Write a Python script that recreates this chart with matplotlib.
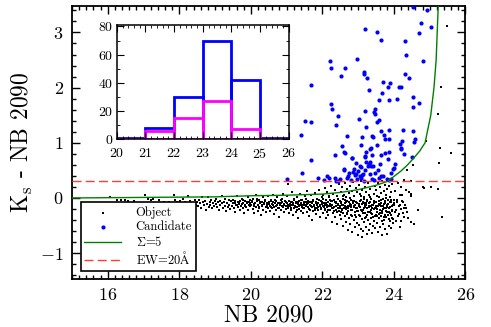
import matplotlib
matplotlib.use('Agg')
import matplotlib.pyplot as plt
from matplotlib.ticker import MultipleLocator

plt.rcParams['font.family'] = 'serif'
plt.rcParams['font.serif'] = ['cmr10', 'DejaVu Serif']
plt.rcParams['mathtext.fontset'] = 'cm'
plt.rcParams['axes.formatter.use_mathtext'] = True

# all detected objects (NB 2090, Ks - NB 2090)
obj_bright = [
    (16.06, 0.02), (16.27, -0.03), (16.38, -0.04), (16.47, -0.03), (16.56, -0.05), (16.73, -0.05),
    (17.05, 0.05), (17.12, -0.01), (17.20, -0.03), (17.27, -0.02), (17.43, -0.04), (17.52, -0.10),
    (17.57, -0.07), (17.64, -0.12), (17.71, -0.08), (17.86, 0.05), (17.87, -0.03), (17.93, -0.07),
    (17.98, -0.11),
    (18.02, -0.06), (18.05, -0.12), (18.09, -0.02), (18.12, -0.15), (18.16, -0.08), (18.19, -0.18),
    (18.23, 0.03), (18.26, -0.10), (18.30, -0.05), (18.33, -0.14), (18.37, -0.09), (18.41, -0.20),
    (18.44, -0.03), (18.47, -0.12), (18.49, -0.07),
    (18.52, -0.15), (18.55, -0.04), (18.58, -0.10), (18.61, -0.19), (18.63, 0.02), (18.66, -0.08),
    (18.69, -0.13), (18.72, -0.05), (18.74, -0.21), (18.77, -0.11), (18.80, 0.01), (18.82, -0.16),
    (18.85, -0.07), (18.87, -0.12), (18.90, -0.03), (18.92, -0.18), (18.95, -0.09), (18.97, -0.14),
    (18.99, -0.06),
    (19.02, -0.11), (19.04, -0.02), (19.06, -0.17), (19.09, -0.08), (19.11, -0.22), (19.13, -0.05),
    (19.15, -0.13), (19.18, 0.03), (19.20, -0.10), (19.22, -0.19), (19.25, -0.07), (19.27, -0.14),
    (19.29, -0.01), (19.31, -0.24), (19.34, -0.09), (19.36, -0.16), (19.38, -0.04), (19.40, -0.12),
    (19.43, -0.20), (19.45, -0.06), (19.47, -0.15), (19.49, -0.10),
    (19.51, -0.03), (19.53, -0.18), (19.55, -0.09), (19.57, -0.25), (19.59, -0.12), (19.61, 0.04),
    (19.63, -0.07), (19.65, -0.16), (19.67, -0.11), (19.69, -0.21), (19.71, -0.05), (19.73, -0.14),
    (19.75, -0.02), (19.77, -0.19), (19.79, -0.09), (19.81, -0.27), (19.83, -0.12), (19.85, -0.06),
    (19.87, -0.17), (19.89, -0.10), (19.91, 0.02), (19.93, -0.22), (19.95, -0.08), (19.97, -0.15),
    (19.99, -0.04),
]

obj_mid = [
    (20.01, -0.13), (20.03, -0.07), (20.05, -0.20), (20.06, -0.02), (20.08, -0.11), (20.10, -0.28),
    (20.12, -0.09), (20.14, -0.16), (20.15, 0.05), (20.17, -0.06), (20.19, -0.23), (20.21, -0.12),
    (20.23, -0.04), (20.24, -0.18), (20.26, -0.10), (20.28, -0.31), (20.30, -0.08), (20.32, -0.15),
    (20.33, 0.01), (20.35, -0.21), (20.37, -0.11), (20.39, -0.05), (20.41, -0.17), (20.42, -0.26),
    (20.44, -0.09), (20.46, -0.13), (20.48, 0.03), (20.49, -0.19),
    (20.51, -0.07), (20.53, -0.14), (20.54, -0.24), (20.56, -0.03), (20.58, -0.11), (20.59, -0.19),
    (20.61, -0.08), (20.63, 0.06), (20.64, -0.16), (20.66, -0.29), (20.68, -0.10), (20.69, -0.05),
    (20.71, -0.21), (20.73, -0.13), (20.74, 0.02), (20.76, -0.18), (20.78, -0.09), (20.79, -0.34),
    (20.81, -0.12), (20.83, -0.04), (20.84, -0.22), (20.86, -0.15), (20.88, -0.07), (20.89, 0.08),
    (20.91, -0.17), (20.93, -0.11), (20.94, -0.26), (20.96, -0.06), (20.98, -0.14), (20.99, -0.20),
    (21.01, -0.09), (21.02, 0.04), (21.04, -0.18), (21.05, -0.12), (21.07, -0.27), (21.08, -0.05),
    (21.10, -0.15), (21.11, -0.22), (21.13, -0.08), (21.14, 0.10), (21.16, -0.13), (21.17, -0.31),
    (21.19, -0.10), (21.20, -0.02), (21.22, -0.19), (21.23, -0.14), (21.25, -0.07), (21.26, -0.25),
    (21.28, 0.01), (21.29, -0.16), (21.31, -0.11), (21.32, -0.36), (21.34, -0.06), (21.35, -0.20),
    (21.37, -0.13), (21.38, 0.07), (21.40, -0.09), (21.41, -0.23), (21.43, -0.17), (21.44, -0.04),
    (21.46, -0.28), (21.47, -0.12), (21.49, -0.08), (21.04, 0.25),
    (21.50, -0.19), (21.51, 0.03), (21.53, -0.14), (21.54, -0.07), (21.56, -0.26), (21.57, -0.11),
    (21.58, 0.12), (21.60, -0.17), (21.61, -0.05), (21.63, -0.32), (21.64, -0.13), (21.65, -0.21),
    (21.67, -0.08), (21.68, 0.05), (21.70, -0.16), (21.71, -0.40), (21.72, -0.10), (21.74, -0.24),
    (21.75, -0.03), (21.77, -0.14), (21.78, -0.19), (21.79, 0.09), (21.81, -0.07), (21.82, -0.29),
    (21.84, -0.12), (21.85, -0.18), (21.86, -0.01), (21.88, -0.22), (21.89, -0.10), (21.91, 0.15),
    (21.92, -0.15), (21.93, -0.35), (21.95, -0.06), (21.96, -0.20), (21.98, -0.11), (21.99, 0.02),
]

obj_faint = [
    (22.01, -0.14), (22.02, -0.28), (22.03, 0.06), (22.04, -0.09), (22.06, -0.20), (22.07, 0.18),
    (22.08, -0.12), (22.09, -0.37), (22.11, -0.04), (22.12, -0.17), (22.13, -0.25), (22.14, 0.10),
    (22.16, -0.08), (22.17, -0.31), (22.18, -0.15), (22.19, 0.01), (22.21, -0.22), (22.22, -0.11),
    (22.23, 0.22), (22.24, -0.06), (22.26, -0.43), (22.27, -0.18), (22.28, -0.13), (22.29, 0.08),
    (22.31, -0.27), (22.32, -0.03), (22.33, -0.16), (22.34, -0.34), (22.36, 0.14), (22.37, -0.10),
    (22.38, -0.21), (22.39, -0.07), (22.41, 0.03), (22.42, -0.48), (22.43, -0.19), (22.44, -0.12),
    (22.46, 0.25), (22.47, -0.24), (22.48, -0.05), (22.49, -0.30),
    (22.50, -0.15), (22.51, 0.11), (22.52, -0.39), (22.53, -0.08), (22.54, -0.22), (22.55, 0.20),
    (22.56, -0.13), (22.57, -0.51), (22.58, -0.02), (22.59, -0.27), (22.60, 0.06), (22.61, -0.18),
    (22.62, -0.33), (22.63, 0.27), (22.64, -0.10), (22.65, -0.44), (22.66, -0.20), (22.67, 0.02),
    (22.68, -0.06), (22.69, -0.29), (22.70, 0.16), (22.71, -0.14), (22.72, -0.58), (22.73, -0.24),
    (22.74, 0.09), (22.75, -0.36), (22.76, -0.11), (22.77, -0.47), (22.78, 0.22), (22.79, -0.17),
    (22.80, -0.04), (22.81, -0.31), (22.82, 0.13), (22.83, -0.62), (22.84, -0.21), (22.85, -0.09),
    (22.86, 0.29), (22.87, -0.40), (22.88, -0.15), (22.89, 0.04), (22.90, -0.26), (22.91, -0.53),
    (22.92, -0.12), (22.93, 0.18), (22.94, -0.35), (22.95, -0.07), (22.96, -0.45), (22.97, 0.10),
    (22.98, -0.19), (22.99, -0.68),
    (23.00, -0.23), (23.01, 0.24), (23.02, -0.11), (23.03, -0.49), (23.04, 0.07), (23.05, -0.32),
    (23.06, -0.16), (23.07, -0.56), (23.08, 0.31), (23.09, -0.04), (23.10, -0.38), (23.11, -0.71),
    (23.12, 0.15), (23.13, -0.21), (23.14, -0.60), (23.15, -0.09), (23.16, 0.02), (23.17, -0.43),
    (23.18, -0.27), (23.19, 0.20), (23.20, -0.13), (23.21, -0.52), (23.22, -0.34), (23.23, 0.11),
    (23.24, -0.06), (23.25, -0.66), (23.26, -0.19), (23.27, 0.28), (23.28, -0.40), (23.29, -0.10),
    (23.30, -0.58), (23.31, 0.05), (23.32, -0.25), (23.33, -0.47), (23.34, 0.17), (23.35, -0.15),
    (23.36, -0.36), (23.37, -0.02), (23.38, -0.63), (23.39, 0.33), (23.40, -0.29), (23.41, -0.12),
    (23.42, -0.50), (23.43, 0.08), (23.44, -0.20), (23.45, -0.41), (23.46, 0.22), (23.47, -0.07),
    (23.48, -0.55), (23.49, -0.31),
    (23.50, 0.14), (23.51, -0.17), (23.52, -0.45), (23.53, 0.04), (23.54, -0.26), (23.55, -0.61),
    (23.56, 0.27), (23.57, -0.11), (23.58, -0.37), (23.59, -0.05), (23.60, 0.19), (23.61, -0.52),
    (23.62, -0.22), (23.63, 0.09), (23.64, -0.33), (23.65, -0.14), (23.66, -0.68), (23.67, 0.30),
    (23.68, -0.28), (23.69, -0.02), (23.70, -0.48), (23.71, 0.12), (23.72, -0.19), (23.73, -0.40),
    (23.74, 0.24), (23.75, -0.09), (23.76, -0.57), (23.77, -0.24), (23.78, 0.06), (23.79, -0.35),
    (23.80, -0.13), (23.81, -0.66), (23.82, 0.17), (23.83, -0.30), (23.84, -0.04), (23.85, -0.50),
    (23.86, 0.21), (23.87, -0.18), (23.88, -0.42), (23.89, 0.01), (23.90, -0.27), (23.91, -0.08),
    (23.92, -0.55), (23.93, 0.10), (23.94, -0.21), (23.95, -0.36), (23.96, 0.26), (23.97, -0.12),
    (23.98, -0.46), (23.99, -0.03),
    (24.02, -0.25), (24.04, 0.12), (24.06, -0.41), (24.08, -0.08), (24.10, 0.28), (24.12, -0.33),
    (24.14, -0.15), (24.16, 0.05), (24.18, -0.52), (24.19, -0.42), (24.21, 0.20), (24.22, -0.05),
    (24.23, 0.05), (24.25, -0.28), (24.27, 0.33), (24.29, -0.18), (24.31, -0.12), (24.33, 0.15),
    (24.35, -0.18), (24.37, -0.25), (24.37, 0.50), (24.40, -0.36), (24.43, 0.10), (24.47, 0.30),
    (24.47, 0.04), (24.48, -0.43), (24.49, 0.07),
    (24.53, 0.60), (24.56, -0.48), (24.67, -0.21), (24.82, 0.20), (24.83, 0.18), (24.89, 1.04),
    (25.03, 0.19), (25.22, 0.16), (25.23, 0.17), (25.25, 0.64), (25.22, 1.52), (25.29, 0.91),
    (25.31, 2.02), (25.33, -0.34), (25.49, 3.11), (25.60, 0.82),
]

# densest part of the locus
obj_core = [
    (19.56, -0.06), (19.62, -0.13), (19.68, -0.09), (19.74, -0.11), (19.78, -0.04), (19.84, -0.15),
    (19.88, -0.08), (19.94, -0.12), (19.98, -0.10),
    (20.04, -0.05), (20.09, -0.14), (20.13, -0.10), (20.18, -0.02), (20.22, -0.16), (20.27, -0.07),
    (20.31, -0.12), (20.36, -0.09), (20.40, -0.03), (20.45, -0.15), (20.50, -0.11), (20.55, -0.06),
    (20.57, -0.17), (20.62, -0.12), (20.67, -0.04), (20.70, -0.14), (20.75, -0.09), (20.80, -0.18),
    (20.85, -0.10), (20.87, -0.02), (20.92, -0.13), (20.97, -0.08),
    (21.03, -0.15), (21.06, -0.05), (21.09, -0.11), (21.12, -0.19), (21.15, -0.07), (21.18, -0.13),
    (21.21, -0.03), (21.24, -0.16), (21.27, -0.10), (21.30, -0.21), (21.33, -0.08), (21.36, -0.14),
    (21.39, -0.04), (21.42, -0.12), (21.45, -0.18), (21.48, -0.09),
    (21.52, -0.13), (21.55, -0.02), (21.59, -0.10), (21.62, -0.20), (21.66, -0.07), (21.69, -0.15),
    (21.73, -0.05), (21.76, -0.12), (21.80, -0.22), (21.83, -0.09), (21.87, -0.16), (21.90, -0.04),
    (21.94, -0.13), (21.97, -0.18),
    (22.00, -0.07), (22.05, -0.16), (22.10, -0.10), (22.15, -0.22), (22.20, -0.04), (22.25, -0.13),
    (22.30, -0.18), (22.35, -0.08), (22.40, -0.26), (22.45, -0.11), (22.02, -0.02), (22.08, -0.21),
    (22.12, -0.12), (22.18, 0.03), (22.23, -0.15), (22.27, -0.06), (22.33, -0.24), (22.38, -0.14),
    (22.43, -0.01), (22.48, -0.18),
    (22.52, -0.09), (22.56, -0.20), (22.59, -0.12), (22.63, -0.03), (22.67, -0.17), (22.70, -0.27),
    (22.74, -0.08), (22.78, -0.14), (22.81, -0.22), (22.85, -0.05), (22.89, -0.16), (22.92, -0.30),
    (22.96, -0.10), (22.53, -0.25), (22.58, 0.04), (22.62, -0.15), (22.66, -0.07), (22.71, -0.19),
    (22.76, 0.00), (22.80, -0.12), (22.84, -0.33), (22.88, -0.06), (22.93, -0.18), (22.97, -0.23),
    (23.02, -0.14), (23.05, -0.05), (23.08, -0.21), (23.11, -0.11), (23.14, -0.28), (23.17, -0.02),
    (23.20, -0.17), (23.23, -0.09), (23.26, -0.31), (23.29, -0.14), (23.32, 0.01), (23.35, -0.22),
    (23.38, -0.12), (23.41, -0.35), (23.44, -0.06), (23.47, -0.18),
    (23.01, -0.30), (23.04, -0.17), (23.07, 0.04), (23.10, -0.24), (23.13, -0.08), (23.16, -0.19),
    (23.19, -0.36), (23.22, -0.13), (23.25, -0.04), (23.28, -0.25), (23.31, -0.16), (23.34, -0.07),
    (23.37, -0.27), (23.40, -0.19), (23.43, -0.10), (23.46, -0.32), (23.49, -0.14),
    (23.51, -0.08), (23.54, -0.20), (23.57, -0.29), (23.60, -0.12), (23.63, -0.03), (23.66, -0.23),
    (23.69, -0.15), (23.72, -0.34), (23.75, -0.06), (23.78, -0.18), (23.81, -0.26), (23.84, -0.11),
    (23.87, -0.38), (23.90, -0.16), (23.93, -0.04), (23.96, -0.24), (23.99, -0.13),
    (23.52, -0.33), (23.55, -0.14), (23.58, 0.02), (23.61, -0.27), (23.64, -0.09), (23.67, -0.42),
    (23.70, -0.20), (23.73, -0.11), (23.76, -0.30), (23.79, 0.00), (23.82, -0.17), (23.85, -0.25),
    (23.88, -0.07), (23.91, -0.31), (23.94, -0.15), (23.97, -0.39),
    (24.01, -0.10), (24.05, -0.22), (24.09, -0.03), (24.13, -0.29), (24.17, -0.12), (24.20, -0.20),
    (24.24, -0.08), (24.28, -0.35),
]

# NB excess candidates
cand = [
    (24.54, 3.47), (24.92, 3.40), (24.77, 3.18), (24.71, 2.99), (25.05, 3.10),
    (23.18, 3.06), (23.53, 3.01), (23.64, 2.87), (24.30, 2.85), (24.34, 2.60),
    (22.21, 2.48), (22.23, 2.36), (22.62, 2.35), (22.98, 2.51), (23.15, 2.28), (23.17, 2.25),
    (23.24, 2.18), (22.53, 2.21), (21.69, 2.04), (24.32, 2.24), (24.41, 2.18), (23.69, 2.10),
    (23.89, 2.09), (23.84, 2.02), (24.15, 2.02), (23.31, 1.95), (23.66, 1.91), (23.58, 1.78),
    (23.87, 1.78), (24.09, 1.79), (24.82, 2.48), (24.19, 2.02),
    (24.52, 1.83), (24.70, 1.73), (24.53, 1.65),
    (21.52, 1.40), (21.69, 1.37), (21.39, 1.15), (21.67, 0.69),
    (22.25, 1.70), (22.28, 1.61), (22.43, 1.49), (22.39, 1.33), (22.70, 1.13), (22.54, 0.95),
    (22.36, 0.78), (22.61, 0.84), (22.63, 0.82), (22.83, 0.73), (22.95, 0.64), (22.60, 0.53),
    (23.07, 0.57),
    (23.19, 1.58), (23.01, 1.43), (23.23, 1.28), (23.47, 1.62), (23.45, 1.56), (23.46, 1.52),
    (23.57, 1.42), (23.54, 1.38), (23.64, 1.22), (23.72, 1.15), (23.76, 1.07), (23.87, 1.07),
    (23.11, 1.11), (23.40, 1.13), (23.42, 1.10), (23.52, 0.96), (23.09, 0.96), (23.32, 0.89),
    (23.21, 0.84), (23.18, 0.76), (23.39, 0.78), (23.64, 0.78), (23.76, 0.82), (23.32, 0.65),
    (23.30, 0.62), (23.37, 0.58), (23.41, 0.58), (23.62, 0.61), (23.83, 0.70), (24.00, 0.55),
    (24.04, 0.61), (24.16, 0.98), (24.20, 0.91), (24.21, 0.88), (24.29, 0.79), (24.25, 1.23),
    (24.52, 1.22), (24.59, 1.07), (24.55, 1.01), (24.51, 0.74), (23.86, 1.24), (24.22, 1.04),
    (23.35, 0.90), (22.82, 0.72), (23.04, 0.58), (23.23, 0.65), (23.27, 0.58), (23.87, 0.83),
    (23.20, 0.75),
    (21.42, 0.45), (22.61, 0.51), (22.75, 0.45), (22.85, 0.47), (22.92, 0.41), (22.95, 0.44),
    (22.88, 0.52), (23.04, 0.40), (23.10, 0.42), (23.13, 0.43), (23.08, 0.36), (23.32, 0.44),
    (23.48, 0.46), (23.58, 0.37), (23.63, 0.39), (23.91, 0.45), (23.98, 0.52), (23.70, 0.40),
    (23.81, 0.35), (23.85, 0.32), (23.92, 0.34), (22.13, 0.40), (22.18, 0.37), (22.34, 0.37),
    (21.87, 0.36), (22.05, 0.33), (22.39, 0.30), (22.50, 0.34), (22.45, 0.31), (23.15, 0.31),
    (23.45, 0.32), (21.02, 0.35), (22.68, 0.36), (22.72, 0.40), (22.80, 0.33), (23.00, 0.48),
    (23.20, 0.50), (23.55, 0.50), (23.38, 0.35), (22.97, 0.35),
]

# Sigma = 5 curve
sigma_nb = [15.0, 19.0, 20.0, 21.0, 22.0, 22.5, 23.0, 23.5, 23.82, 24.2, 24.38, 24.55, 24.72,
            24.87, 24.95, 25.03, 25.12, 25.18, 25.21, 25.24]
sigma_col = [0.0, 0.02, 0.04, 0.05, 0.07, 0.10, 0.15, 0.23, 0.30, 0.49, 0.60, 0.72, 0.85,
             1.0, 1.25, 1.5, 2.0, 2.5, 3.0, 3.5]
ew_cut = 0.3

# inset histogram of candidate magnitudes
hist_edges = [20, 21, 22, 23, 24, 25]
hist_all = [1, 8, 30, 70, 42, 1]
hist_sub = [0, 6, 15, 27, 7, 0]

fig = plt.figure(figsize=(4.91, 3.27), dpi=100)
ax = fig.add_axes([0.1466, 0.1483, 0.8014, 0.8334])

obj = obj_bright + obj_mid + obj_core + obj_faint
ax.scatter([p[0] for p in obj], [p[1] for p in obj], s=3.2, c='black', marker='s',
           linewidths=0, label='Object', zorder=2)
ax.scatter([p[0] for p in cand], [p[1] for p in cand], s=9, c='#0000ff',
           linewidths=0, label='Candidate', zorder=3)
ax.plot(sigma_nb, sigma_col, color='#008000', lw=1.0, label=r'$\Sigma$=5', zorder=4)
ax.axhline(ew_cut, color='#ff3b3b', lw=1.0, dashes=(6.5, 3), label=r'EW=20$\mathrm{\AA}$', zorder=4)

ax.set_xlim(15, 26)
ax.set_ylim(-1.46, 3.48)
ax.xaxis.set_major_locator(MultipleLocator(2))
ax.xaxis.set_minor_locator(MultipleLocator(0.2))
ax.yaxis.set_major_locator(MultipleLocator(1))
ax.yaxis.set_minor_locator(MultipleLocator(0.2))
ax.tick_params(which='both', direction='in', top=True, right=True, width=1.0)
ax.tick_params(which='major', length=6, labelsize=13, pad=6)
ax.tick_params(which='minor', length=3)
for sp in ax.spines.values():
    sp.set_linewidth(1.3)
ax.set_xlabel('NB 2090', fontsize=17, labelpad=1)
ax.set_ylabel(r'K$_{\rm s}$ - NB 2090', fontsize=17, labelpad=4)

leg = ax.legend(loc='lower left', bbox_to_anchor=(0.022, 0.027), fontsize=9, scatterpoints=1,
                handlelength=2.9, handleheight=0.5, handletextpad=1.2, borderpad=0.3,
                labelspacing=0.15, fancybox=False, edgecolor='black', framealpha=1,
                borderaxespad=0)
leg.get_frame().set_linewidth(1.2)

# inset
axi = fig.add_axes([0.238, 0.574, 0.350, 0.3495])
axi.bar(hist_edges, hist_all, width=1, align='edge', fill=False, edgecolor='#0000ff', linewidth=2.0)
axi.bar(hist_edges, hist_sub, width=1, align='edge', fill=False, edgecolor='#ff00ff', linewidth=2.0)
axi.set_xlim(20, 26)
axi.set_ylim(0, 81)
axi.xaxis.set_major_locator(MultipleLocator(1))
axi.xaxis.set_minor_locator(MultipleLocator(0.2))
axi.yaxis.set_major_locator(MultipleLocator(20))
axi.yaxis.set_minor_locator(MultipleLocator(10))
axi.tick_params(which='both', direction='in', top=True, right=True, labelsize=10)
axi.tick_params(axis='x', pad=5.5)
axi.tick_params(axis='y', pad=2.5)
axi.tick_params(which='major', length=5)
axi.tick_params(which='minor', length=2.5)
for sp in axi.spines.values():
    sp.set_linewidth(1.1)

fig.savefig('out.png', dpi=100)
